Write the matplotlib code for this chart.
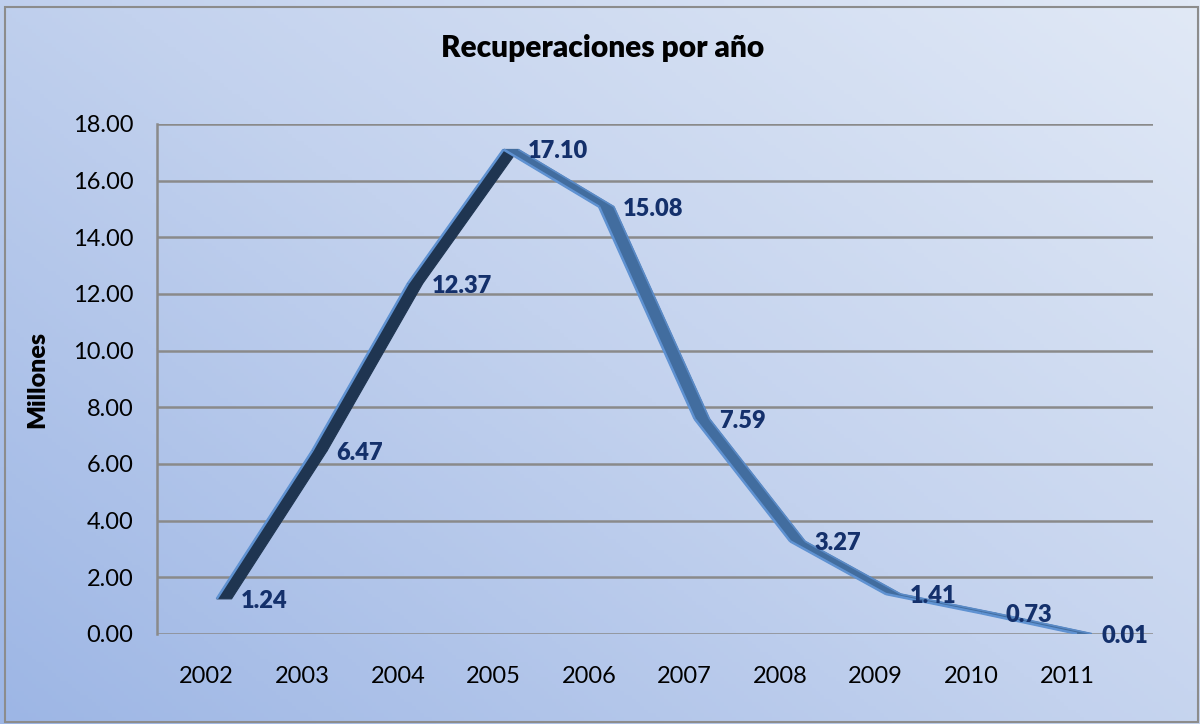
import numpy as np
import matplotlib
matplotlib.use("Agg")
import matplotlib.pyplot as plt
from matplotlib.patches import Polygon, Rectangle
from matplotlib.colors import LinearSegmentedColormap

plt.rcParams['font.family'] = ['Lato', 'DejaVu Sans']

# data
years = ['2002', '2003', '2004', '2005', '2006', '2007', '2008', '2009', '2010', '2011']
values = [1.24, 6.47, 12.37, 17.10, 15.08, 7.59, 3.27, 1.41, 0.73, 0.01]
yticks = [0, 2, 4, 6, 8, 10, 12, 14, 16, 18]

W, H = 1200, 724
fig = plt.figure(figsize=(W / 100, H / 100), dpi=100)

# background gradient (dark bottom-left -> light top-right)
bg = fig.add_axes([0, 0, 1, 1], zorder=-10)
gx, gy = np.meshgrid(np.linspace(0, 1, 300), np.linspace(0, 1, 200))
grad = 0.55 * gx + 0.45 * (1 - gy)
cmap = LinearSegmentedColormap.from_list('bgc', ['#9db6e5', '#c3d2ee', '#e1e9f6'])
bg.imshow(grad, cmap=cmap, aspect='auto', extent=[0, 1, 0, 1], origin='upper')
bg.set_axis_off()
fig.patches.append(Rectangle((5 / W, 2 / H), 1193 / W, 715 / H, transform=fig.transFigure,
                             fill=False, edgecolor='#8c8c8c', lw=1.5))

ax = fig.add_axes([157 / W, 1 - 634 / H, 996 / W, 510 / H])
ax.patch.set_alpha(0)
x = np.arange(len(years))
ax.set_xlim(-0.52, 9.9)
ax.set_ylim(0, 18)

# gridlines
for t in yticks:
    ax.axhline(t, color='#8a8a8a', lw=1.8, zorder=1)
for s in ['top', 'right', 'bottom']:
    ax.spines[s].set_visible(False)
ax.spines['left'].set_color('#8a8a8a')
ax.spines['left'].set_linewidth(1.8)

# 3d-like ribbon
xf = x + 0.105
d = 0.155
for i in range(len(values) - 1):
    x0, x1 = xf[i], xf[i + 1]
    y0, y1 = values[i], values[i + 1]
    rising = y1 > y0
    face = '#1f3551' if rising else '#426d9f'
    poly = Polygon([(x0, y0), (x1, y1), (x1 + d, y1), (x0 + d, y0)], closed=True,
                   facecolor=face, edgecolor=face, lw=0.8, zorder=3)
    ax.add_patch(poly)
    ax.plot([x0, x1], [y0, y1], color='#5f92d2', lw=1.8, zorder=4, solid_capstyle='butt')
    if not rising:
        ax.plot([x0 + d, x1 + d], [y0, y1], color='#5a8ac6', lw=1.2, zorder=4,
                solid_capstyle='butt')

for xi, v in zip(xf, values):
    ax.annotate(f'{v:.2f}', (xi, v), xytext=(24, -2), textcoords='offset pixels',
                ha='left', va='center', fontsize=17, fontweight='heavy',
                color='#14306b', zorder=6)

ax.set_xticks(x)
ax.set_xticklabels(years)
ax.set_yticks(yticks)
ax.set_yticklabels([f'{t:.2f}' for t in yticks])
ax.tick_params(axis='x', length=0, pad=23, labelsize=17, colors='black')
ax.tick_params(axis='y', length=0, pad=17, labelsize=17, colors='black')
ax.set_ylabel('Millones', fontsize=18, fontweight='heavy', labelpad=18)

fig.text(603 / W, 1 - 48 / H, 'Recuperaciones por año', ha='center', va='center',
         fontsize=21.5, fontweight='heavy', color='black')

fig.savefig('out.png', dpi=100)
